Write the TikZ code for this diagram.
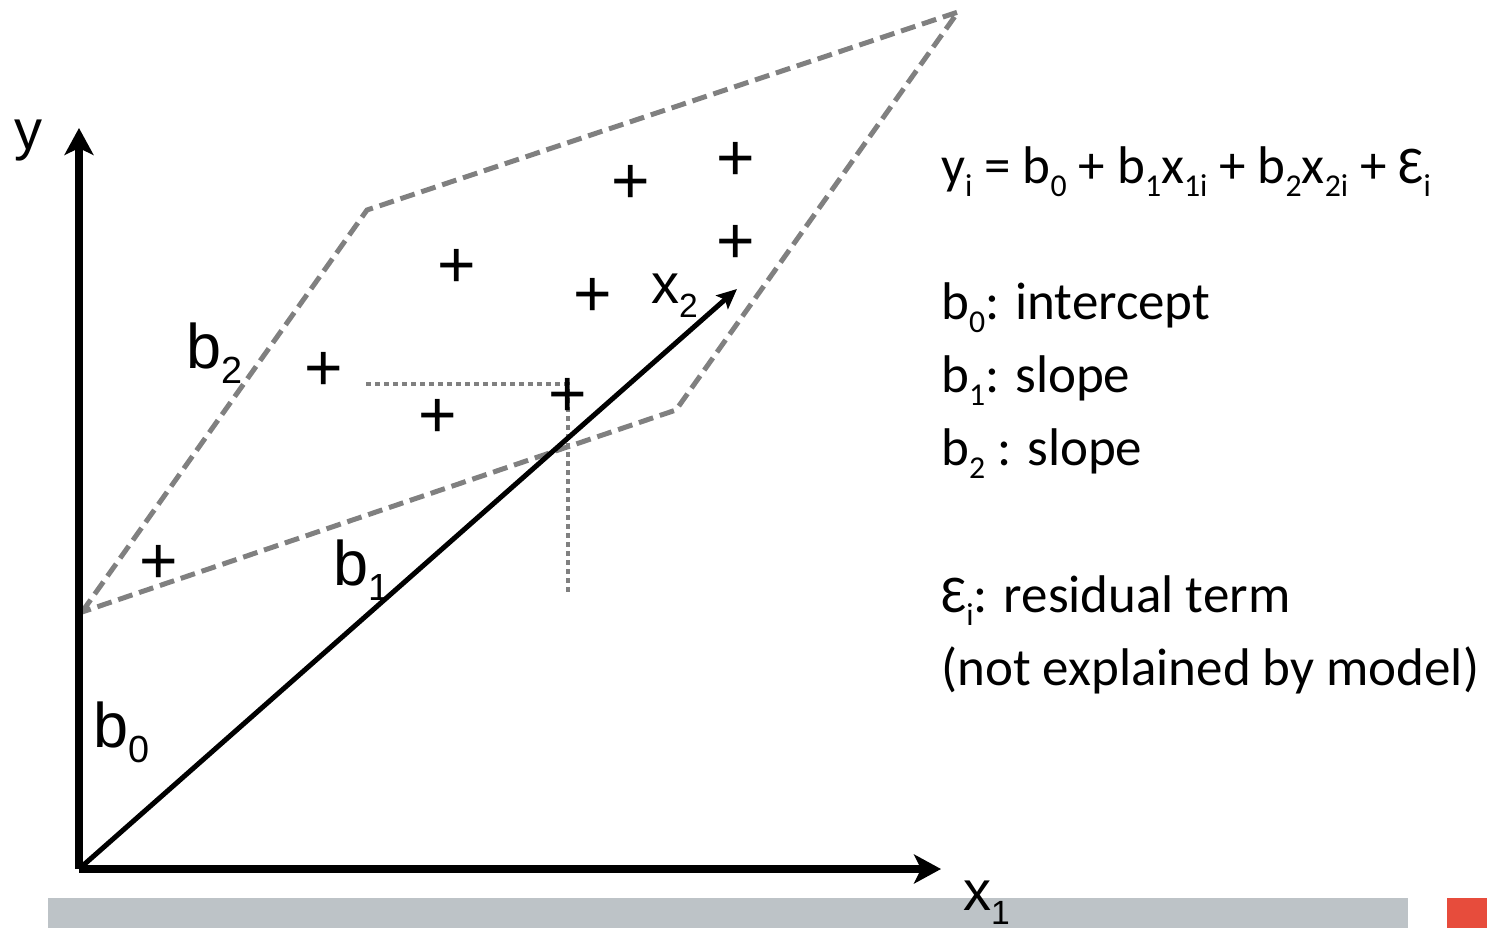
\documentclass[tikz,border=0pt]{standalone}
\usepackage{fontspec}
\usepackage{graphicx}
\setmainfont{Carlito}
\newfontfamily\labfont{Liberation Sans}
\usetikzlibrary{arrows.meta}
\definecolor{planegray}{RGB}{128,128,128}
\definecolor{bargray}{RGB}{189,195,199}
\definecolor{barred}{RGB}{231,76,60}
\newcommand\sbs[1]{\raisebox{-0.25em}{\scalebox{0.6}{#1}}}
\begin{document}
\begin{tikzpicture}[x=1pt,y=-1pt,
  axisline/.style={line width=8.5pt,-{Stealth[length=27pt,width=29pt,inset=7pt]}},
  vecline/.style={line width=5pt,-{Stealth[length=20pt,width=18pt,inset=4pt]}},
  planeline/.style={draw=planegray,line width=5pt,dash pattern=on 15pt off 7pt,line join=miter},
  guideline/.style={draw=planegray,line width=4.5pt,dash pattern=on 4.5pt off 4.5pt},
  lbl/.style={inner sep=0pt,anchor=base west,font=\labfont\fontsize{63}{63}\selectfont},
  axlbl/.style={inner sep=0pt,anchor=base west,font=\labfont\fontsize{56}{56}\selectfont},
  eqtext/.style={inner sep=0pt,anchor=base west,font=\fontsize{53}{64}\selectfont},
  pt/.style={inner sep=0pt,anchor=base,font=\labfont\fontsize{66}{66}\selectfont}
]
\useasboundingbox (0,0) rectangle (1487,928);
% footer bar
\fill[bargray] (48,898) rectangle (1408,928);
\fill[barred] (1447,898) rectangle (1487,928);
% coordinates
\coordinate (O) at (79,869);
\coordinate (ytip) at (79,128);
\coordinate (x1tip) at (941,869);
\coordinate (x2tip) at (737,289);
\coordinate (A) at (82,612);
\coordinate (B) at (367,210);
\coordinate (C) at (958,12);
\coordinate (D) at (676,410);
\coordinate (g1) at (366,384);
\coordinate (g2) at (568,384);
\coordinate (g3) at (568,592);
% plane
\draw[planeline] (A) -- (B) -- (C) -- (D) -- cycle;
% guides
\draw[guideline] (g1) -- (g2) -- (g3);
% axes
\draw[axisline] (O) -- (ytip);
\draw[axisline] (O) -- (x1tip);
\draw[vecline] (O) -- (x2tip);
% labels
\node[axlbl] (ylab) at (14,150) {y};
\node[axlbl] (x1lab) at (963,910) {x\sbs{1}};
\node[axlbl] (x2lab) at (651,303) {x\sbs{2}};
\node[lbl] (b2lab) at (186,368) {b\sbs{2}};
\node[lbl] (b1lab) at (333,585) {b\sbs{1}};
\node[lbl] (b0lab) at (93,747) {b\sbs{0}};
% data points
\node[pt] (p1) at (736,180) {+};
\node[pt] (p2) at (631,204) {+};
\node[pt] (p3) at (736,263) {+};
\node[pt] (p4) at (457,287) {+};
\node[pt] (p5) at (593,316) {+};
\node[pt] (p6) at (324,390) {+};
\node[pt] (p7) at (568,416) {+};
\node[pt] (p8) at (438,437) {+};
\node[pt] (p9) at (159,583) {+};
% right-hand text
\node[eqtext] (eq) at (941,183) {y\sbs{i} = b\sbs{0} + b\sbs{1}x\sbs{1i} + b\sbs{2}x\sbs{2i} + Ɛ\sbs{i}};
\node[eqtext] (t0) at (941,319) {b\sbs{0}: intercept};
\node[eqtext] (t1) at (941,392) {b\sbs{1}: slope};
\node[eqtext] (t2) at (941,465) {b\sbs{2} : slope};
\node[eqtext] (t3) at (941,612) {Ɛ\sbs{i}: residual term};
\node[eqtext] (t4) at (941,685) {(not explained by model)};
\end{tikzpicture}
\end{document}
